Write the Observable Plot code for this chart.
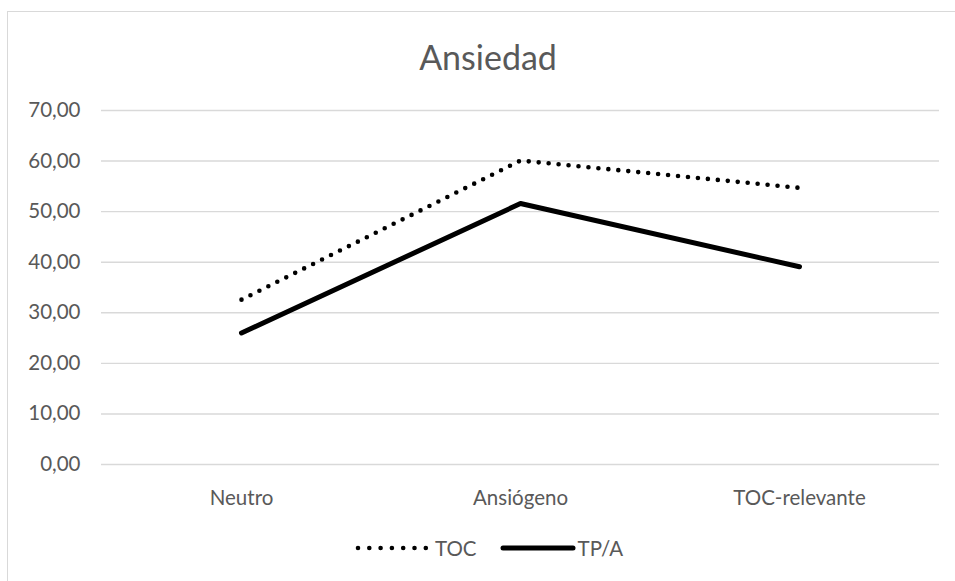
<!DOCTYPE html>
<html>
<head>
<meta charset="utf-8">
<script src="https://cdn.jsdelivr.net/npm/d3@7"></script>
<script src="https://cdn.jsdelivr.net/npm/@observablehq/plot@0.6"></script>
<style>
  html, body { margin: 0; padding: 0; background: #fff; overflow: hidden; width: 955px; height: 581px; }
  body { position: relative; font-family: Lato, "Open Sans", sans-serif; }
  #frame { position: absolute; left: 7px; top: 11px; width: 1000px; height: 700px; border: 1.5px solid #d9d9d9; box-sizing: border-box; }
  #title { position: absolute; top: 36px; left: 0; width: 976px; text-align: center; font-size: 34px; line-height: 42px; color: #595959; }
  #chart { position: absolute; left: 0; top: 90px; }
  #legend { position: absolute; top: 536px; left: 355px; height: 24px; display: flex; align-items: center; font-size: 20.5px; color: #595959; }
  #legend .item { display: flex; align-items: center; }
</style>
</head>
<body>
<div id="frame"></div>
<div id="title">Ansiedad</div>
<div id="chart"></div>
<div id="legend"></div>
<script>
const categories = ["Neutro", "Ansiógeno", "TOC-relevante"];
const tocValues = [32.6, 60.1, 54.7];
const tpaValues = [26.0, 51.6, 39.1];
const yTicks = [0, 10, 20, 30, 40, 50, 60, 70];
const seriesNames = ["TOC", "TP/A"];

const fmt = d => d.toFixed(2).replace(".", ",");
const toc = categories.map((c, i) => ({cat: c, value: tocValues[i]}));
const tpa = categories.map((c, i) => ({cat: c, value: tpaValues[i]}));

const chart = Plot.plot({
  width: 955,
  height: 440,
  marginLeft: 101,
  marginRight: 16,
  marginTop: 20,
  marginBottom: 66,
  style: {fontFamily: "Lato, 'Open Sans', sans-serif", fontSize: "20.5px", color: "#595959", background: "transparent", overflow: "visible"},
  x: {type: "point", domain: categories, padding: 0.5, label: null},
  y: {domain: [0, 70], label: null},
  marks: [
    Plot.gridY(yTicks, {stroke: "#d9d9d9", strokeOpacity: 1, strokeWidth: 1.4}),
    Plot.axisY(yTicks, {tickSize: 0, tickPadding: 21, tickFormat: fmt, label: null, fill: "#595959", fontSize: 20.5}),
    Plot.axisX({tickSize: 0, tickPadding: 26, label: null, fill: "#595959", fontSize: 20.5}),
    Plot.line(toc, {x: "cat", y: "value", stroke: "#000", strokeWidth: 4.6, strokeDasharray: "0,10", strokeLinecap: "round", strokeLinejoin: "round"}),
    Plot.line(tpa, {x: "cat", y: "value", stroke: "#000", strokeWidth: 5, strokeLinecap: "round", strokeLinejoin: "round"})
  ]
});
document.getElementById("chart").appendChild(chart);

const legend = document.getElementById("legend");
const styles = [
  {dash: "0,11.3", width: 4.6, len: 68, gapAfterLine: 9, gapAfterItem: 23},
  {dash: null, width: 5, len: 70, gapAfterLine: 5, gapAfterItem: 0}
];
seriesNames.forEach((name, i) => {
  const s = styles[i];
  const item = document.createElement("div");
  item.className = "item";
  item.style.marginRight = s.gapAfterItem + "px";
  const svg = d3.create("svg").attr("width", s.len + 6).attr("height", 12)
    .style("margin-right", (s.gapAfterLine - 3) + "px");
  const ln = svg.append("line").attr("x1", 3).attr("x2", s.len + 3).attr("y1", 6).attr("y2", 6)
    .attr("stroke", "#000").attr("stroke-width", s.width).attr("stroke-linecap", "round");
  if (s.dash) ln.attr("stroke-dasharray", s.dash);
  item.appendChild(svg.node());
  const t = document.createElement("span");
  t.textContent = name;
  item.appendChild(t);
  legend.appendChild(item);
});
</script>
</body>
</html>
